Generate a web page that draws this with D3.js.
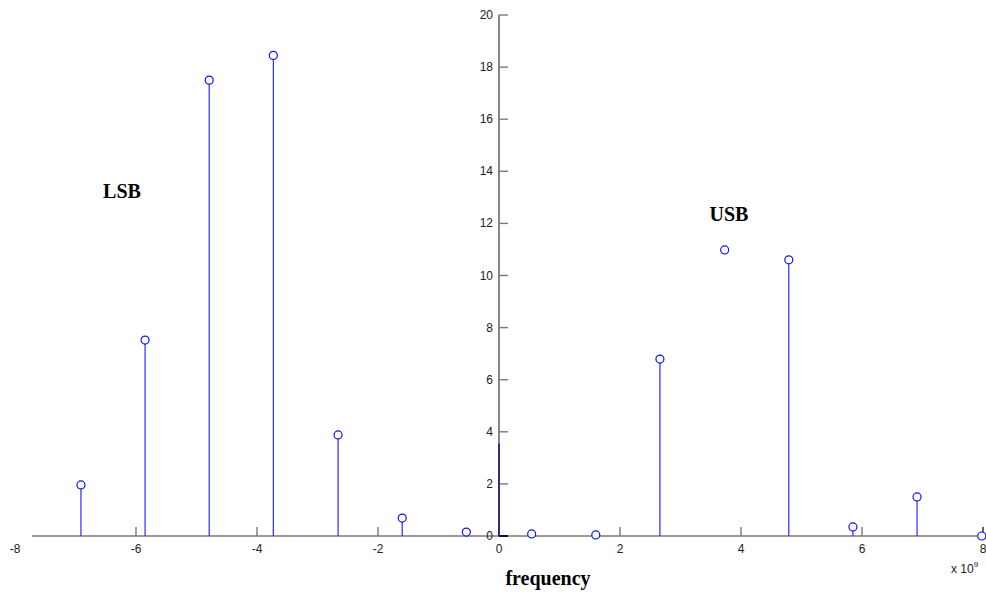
<!DOCTYPE html>
<html>
<head>
<meta charset="utf-8">
<script src="https://cdn.jsdelivr.net/npm/d3@7"></script>
<style>
  body { margin: 0; background: #fff; }
  svg { display: block; }
</style>
</head>
<body>
<div id="chart"></div>
<script>
// frequency in units of 1e9, amplitude
var freqs = [-6.91, -5.85, -4.79, -3.73, -2.66, -1.60, -0.54, 0.54, 1.60, 2.66, 3.73, 4.79, 5.85, 6.91, 7.98];
var amps  = [1.96, 7.52, 17.5, 18.45, 3.88, 0.69, 0.15, 0.08, 0.04, 6.79, 10.98, 10.6, 0.35, 1.5, 0.0];
var stemShown = [1, 1, 1, 1, 1, 1, 1, 1, 1, 1, 0, 1, 1, 1, 1];
var dcValue = 3.55;
var xTicks = [-8, -6, -4, -2, 0, 2, 4, 6, 8];
var yTicks = [0, 2, 4, 6, 8, 10, 12, 14, 16, 18, 20];

var width = 986, height = 592;
var svg = d3.select("#chart").append("svg")
    .attr("width", width)
    .attr("height", height);

var x = d3.scaleLinear().domain([-8, 8]).range([15, 983]);
var y = d3.scaleLinear().domain([0, 20]).range([536, 15]);

var axisColor = "#7a7a7a";
var labelFont = "Arial, 'Liberation Sans', sans-serif";

// x axis line
svg.append("line")
    .attr("x1", 32).attr("x2", width)
    .attr("y1", y(0)).attr("y2", y(0))
    .attr("stroke", axisColor).attr("stroke-width", 1.6);

// x ticks (pointing up)
svg.selectAll(".xtick")
    .data(xTicks.filter(function(d) { return d > -8; }))
    .enter().append("line")
    .attr("class", "xtick")
    .attr("x1", function(d) { return x(d); })
    .attr("x2", function(d) { return x(d); })
    .attr("y1", y(0)).attr("y2", y(0) - 9)
    .attr("stroke", function(d) { return d == 8 ? "#222" : axisColor; })
    .attr("stroke-width", 1.4);

svg.selectAll(".xlab")
    .data(xTicks)
    .enter().append("text")
    .attr("class", "xlab")
    .attr("x", function(d) { return x(d); })
    .attr("y", y(0) + 17)
    .attr("text-anchor", "middle")
    .style("font-family", labelFont)
    .style("font-size", "12px")
    .style("fill", "#222")
    .text(function(d) { return d; });

// y axis line at x = 0
svg.append("line")
    .attr("x1", x(0)).attr("x2", x(0))
    .attr("y1", y(20)).attr("y2", y(0))
    .attr("stroke", axisColor).attr("stroke-width", 1.8);

svg.selectAll(".ytick")
    .data(yTicks)
    .enter().append("line")
    .attr("class", "ytick")
    .attr("x1", x(0)).attr("x2", x(0) + 9)
    .attr("y1", function(d) { return y(d); })
    .attr("y2", function(d) { return y(d); })
    .attr("stroke", function(d) { return d == 0 ? "#111" : axisColor; })
    .attr("stroke-width", function(d) { return d == 0 ? 2 : 1.4; });

svg.selectAll(".ylab")
    .data(yTicks)
    .enter().append("text")
    .attr("class", "ylab")
    .attr("x", x(0) - 6)
    .attr("y", function(d) { return y(d) + 4; })
    .attr("text-anchor", "end")
    .style("font-family", labelFont)
    .style("font-size", "12px")
    .style("fill", "#222")
    .text(function(d) { return d; });

// DC line
svg.append("line")
    .attr("x1", x(0)).attr("x2", x(0))
    .attr("y1", y(0)).attr("y2", y(dcValue))
    .attr("stroke", "#1a1a80").attr("stroke-width", 1.6);

// stems
var pts = freqs.map(function(f, i) { return {f: f, a: amps[i], s: stemShown[i]}; });

svg.selectAll(".stem")
    .data(pts.filter(function(d) { return d.s; }))
    .enter().append("line")
    .attr("class", "stem")
    .attr("x1", function(d) { return x(d.f); })
    .attr("x2", function(d) { return x(d.f); })
    .attr("y1", y(0))
    .attr("y2", function(d) { return y(d.a); })
    .attr("stroke", "#2a2aff")
    .attr("stroke-width", 1.2);

svg.selectAll(".mark")
    .data(pts)
    .enter().append("circle")
    .attr("class", "mark")
    .attr("cx", function(d) { return x(d.f); })
    .attr("cy", function(d) { return y(d.a); })
    .attr("r", 4)
    .attr("fill", "#fff")
    .attr("stroke", "#1010ff")
    .attr("stroke-width", 1.2);

// labels
var serif = "'Liberation Serif', 'Times New Roman', serif";
svg.append("text")
    .attr("x", 122).attr("y", 198)
    .attr("text-anchor", "middle")
    .style("font-family", serif)
    .style("font-weight", "bold")
    .style("font-size", "20px")
    .text("LSB");

svg.append("text")
    .attr("x", 729).attr("y", 221)
    .attr("text-anchor", "middle")
    .style("font-family", serif)
    .style("font-weight", "bold")
    .style("font-size", "20px")
    .text("USB");

svg.append("text")
    .attr("x", 548).attr("y", 585)
    .attr("text-anchor", "middle")
    .style("font-family", serif)
    .style("font-weight", "bold")
    .style("font-size", "20px")
    .text("frequency");

var exp = svg.append("text")
    .attr("x", 951).attr("y", 573)
    .style("font-family", labelFont)
    .style("font-size", "12px")
    .style("fill", "#222");
exp.append("tspan").text("x 10");
exp.append("tspan").attr("dy", -6).style("font-size", "8px").text("9");
</script>
</body>
</html>
